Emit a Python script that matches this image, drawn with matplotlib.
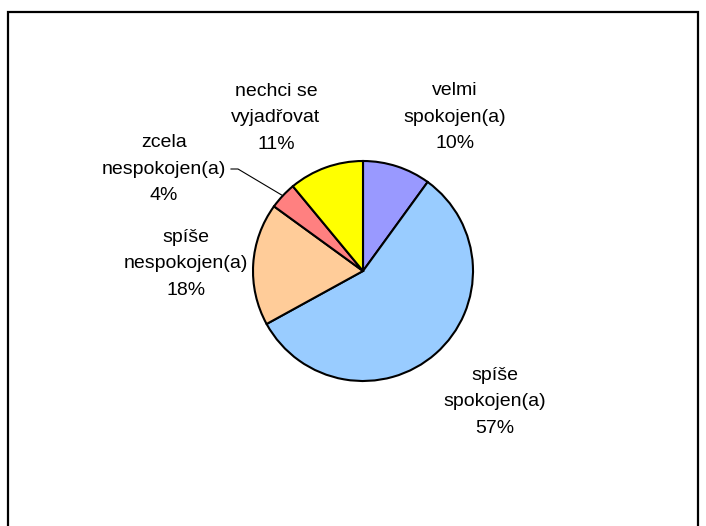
import matplotlib
matplotlib.use("Agg")
import matplotlib.pyplot as plt
from matplotlib.patches import Rectangle
import numpy as np

categories = ["velmi\nspokojen(a)", "spíše\nspokojen(a)", "spíše\nnespokojen(a)",
              "zcela\nnespokojen(a)", "nechci se\nvyjadřovat"]
values = [10, 57, 18, 4, 11]
colors = ["#9999FF", "#99CCFF", "#FFCC99", "#FF8080", "#FFFF00"]

# label block centres in pixel coordinates (x from left, y from top)
label_pos = [(455, 117), (495, 402), (186, 264), (164, 169), (276, 118)]

W, H = 706, 526
fig = plt.figure(figsize=(W / 100, H / 100), dpi=100)
ax = fig.add_axes([0, 0, 1, 1])

cx, cy, r = 363, H - 271, 110
wedges, _ = ax.pie(values, colors=colors, startangle=90, counterclock=False,
                   center=(cx, cy), radius=r, frame=True,
                   wedgeprops=dict(edgecolor="black", linewidth=1.5))
ax.set_xlim(0, W)
ax.set_ylim(0, H)
ax.set_aspect("auto")
ax.axis("off")

total = sum(values)
for cat, v, (px, py) in zip(categories, values, label_pos):
    ax.text(px, H - py, f"{cat}\n{round(100 * v / total)}%", ha="center", va="center",
            fontsize=14, family=["Liberation Sans", "DejaVu Sans"], linespacing=1.75,
            color="black")

# leader line for "zcela nespokojen(a)"
acc = 0
for i, v in enumerate(values):
    if i == 3:
        mid = 90 - 360 * (acc + v / 2) / total
        ex = cx + r * np.cos(np.radians(mid))
        ey = cy + r * np.sin(np.radians(mid))
        ax.plot([231, 238, ex], [H - 169, H - 169, ey], color="black", lw=0.8)
    acc += v

# outer frame
fig.patches.append(Rectangle((8 / W, -0.05), (698 - 8) / W, (H - 12) / H + 0.05,
                             transform=fig.transFigure, fill=False,
                             edgecolor="black", linewidth=1.6))

fig.savefig("out.png", dpi=100)
